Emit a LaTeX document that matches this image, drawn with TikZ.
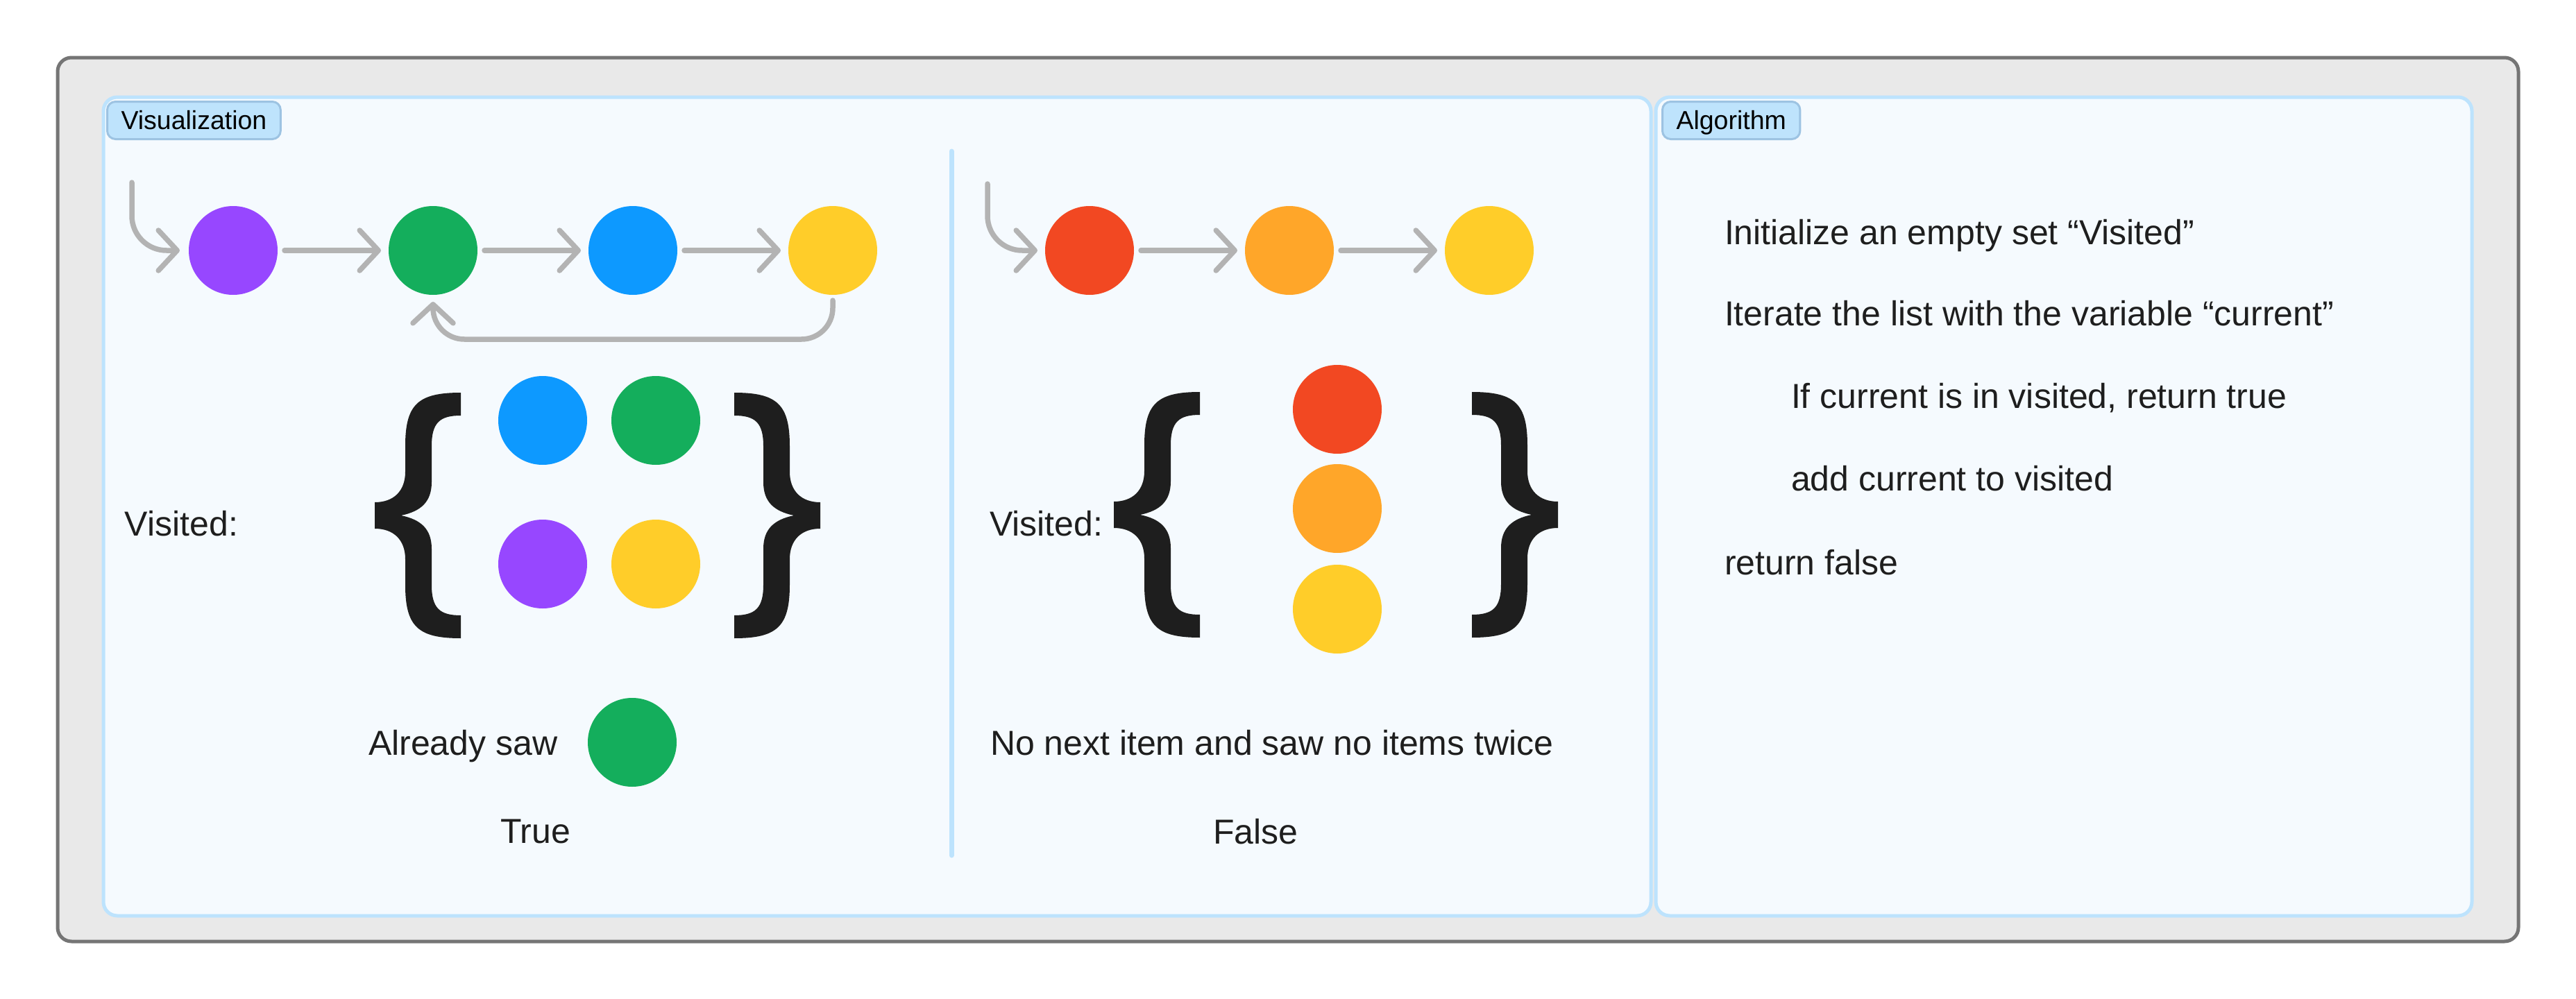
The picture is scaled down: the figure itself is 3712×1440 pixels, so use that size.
\documentclass[tikz,border=0pt]{standalone}
\usepackage{fontspec}
\setmainfont{Liberation Sans}
\usetikzlibrary{arrows.meta}
\definecolor{outerfill}{HTML}{E9E9E9}
\definecolor{outerdraw}{HTML}{757575}
\definecolor{panelfill}{HTML}{F5FAFE}
\definecolor{paneldraw}{HTML}{BDE3FD}
\definecolor{tabfill}{HTML}{BEE3FC}
\definecolor{tabdraw}{HTML}{9DC3E2}
\definecolor{arrowgray}{HTML}{B3B3B3}
\definecolor{ink}{HTML}{1E1E1E}
\definecolor{cpurple}{HTML}{9747FF}
\definecolor{cgreen}{HTML}{14AE5C}
\definecolor{cblue}{HTML}{0D99FF}
\definecolor{cyellow}{HTML}{FFCD29}
\definecolor{cred}{HTML}{F24822}
\definecolor{corange}{HTML}{FFA629}
\tikzset{
  dot/.style={circle, minimum size=25.6pt, inner sep=0pt, outer sep=0pt, draw=none},
  link/.style={draw=arrowgray, line width=1.5pt, line cap=round, line join=round,
    -{Straight Barb[length=5.4pt,width=11.6pt,round]}},
  txt/.style={font=\fontsize{10pt}{12pt}\selectfont, text=ink, inner sep=0pt, anchor=base west},
  tabbox/.style={draw=tabdraw, fill=tabfill, line width=0.6pt, rounded corners=2.4pt,
    font=\fontsize{7.5pt}{9pt}\selectfont, text=black, inner xsep=4pt, inner ysep=0pt,
    minimum height=10.8pt, text height=5.3pt, text depth=0pt, anchor=north west},
  panel/.style={fill=panelfill, draw=paneldraw, line width=1pt, rounded corners=4pt},
  lbrace/.pic={
    \fill[ink] (62,-177) -- (62,-144)
      .. controls (32,-144) and (20,-134) .. (20,-100) -- (20,-48)
      .. controls (20,-20) and (5,-6) .. (-24,0)
      .. controls (5,6) and (20,20) .. (20,48) -- (20,100)
      .. controls (20,134) and (32,144) .. (62,144) -- (62,177)
      .. controls (0,177) and (-18,160) .. (-18,100) -- (-18,63)
      .. controls (-18,35) and (-35,19) .. (-62,19) -- (-62,-19)
      .. controls (-35,-19) and (-18,-35) .. (-18,-63) -- (-18,-100)
      .. controls (-18,-160) and (0,-177) .. (62,-177) -- cycle;
  }
}
\begin{document}
\begin{tikzpicture}[x=0.2pt,y=-0.2pt]
\useasboundingbox (0,0) rectangle (3712,1440);
\fill[white] (0,0) rectangle (3712,1440);

% frames
\draw[fill=outerfill, draw=outerdraw, line width=1pt, rounded corners=4pt] (83,83) rectangle (3629,1357);
\draw[panel] (149,140) rectangle (2379,1320);
\draw[panel] (2386,140) rectangle (3562,1320);
\node[tabbox] (tabvis) at (153,145) {Visualization};
\node[tabbox] (tabalg) at (2394,145) {Algorithm};

% divider
\draw[draw=paneldraw, line width=1.4pt, line cap=round] (1371,218) -- (1371,1233);

% left list
\node[dot, fill=cpurple] (p1) at (336,361) {};
\node[dot, fill=cgreen]  (g1) at (624,361) {};
\node[dot, fill=cblue]   (b1) at (912,361) {};
\node[dot, fill=cyellow] (y1) at (1200,361) {};
\coordinate (s1) at (190,263);
\coordinate (lb) at (0,489);
\draw[link, rounded corners=10pt, shorten >=2.6pt] (s1) |- (p1);
\draw[link, shorten <=2pt, shorten >=2.2pt] (p1) -- (g1);
\draw[link, shorten <=2pt, shorten >=2.2pt] (g1) -- (b1);
\draw[link, shorten <=2pt, shorten >=2.2pt] (b1) -- (y1);
\draw[link, rounded corners=9pt, shorten <=1.6pt, shorten >=2pt]
  (y1.south) -- (y1.south |- lb) -- (g1.south |- lb) -- (g1.south);

% right list
\node[dot, fill=cred]    (r2) at (1570,361) {};
\node[dot, fill=corange] (o2) at (1858,361) {};
\node[dot, fill=cyellow] (y2) at (2146,361) {};
\coordinate (s2) at (1423,265);
\draw[link, rounded corners=10pt, shorten >=2.2pt] (s2) |- (r2);
\draw[link, shorten <=2pt, shorten >=2.2pt] (r2) -- (o2);
\draw[link, shorten <=2pt, shorten >=2.2pt] (o2) -- (y2);

% left set
\node[txt] (vis1) at (179,772) {Visited:};
\pic at (602,743) {lbrace};
\pic[xscale=-1] at (1120,743) {lbrace};
\node[dot, fill=cblue]   (sb) at (782,606) {};
\node[dot, fill=cgreen]  (sg) at (945,606) {};
\node[dot, fill=cpurple] (sp) at (782,813) {};
\node[dot, fill=cyellow] (sy) at (945,813) {};
\node[txt] (already) at (530,1088) {Already saw};
\node[dot, fill=cgreen] (ag) at (911,1070) {};
\node[txt] (true) at (720,1215) {True};

% right set
\node[txt] (vis2) at (1425,772) {Visited:};
\pic at (1667,742) {lbrace};
\pic[xscale=-1] at (2183,742) {lbrace};
\node[dot, fill=cred]    (sr) at (1927,590) {};
\node[dot, fill=corange] (so) at (1927,733) {};
\node[dot, fill=cyellow] (sy2) at (1927,878) {};
\node[txt] (nonext) at (1426,1088) {No next item and saw no items twice};
\node[txt] (false) at (1747,1216) {False};

% algorithm
\node[txt] (a1) at (2484,352) {Initialize an empty set “Visited”};
\node[txt] (a2) at (2484,469) {Iterate the list with the variable “current”};
\node[txt] (a3) at (2580,588) {If current is in visited, return true};
\node[txt] (a4) at (2580,707) {add current to visited};
\node[txt] (a5) at (2484,828) {return false};
\end{tikzpicture}
\end{document}
